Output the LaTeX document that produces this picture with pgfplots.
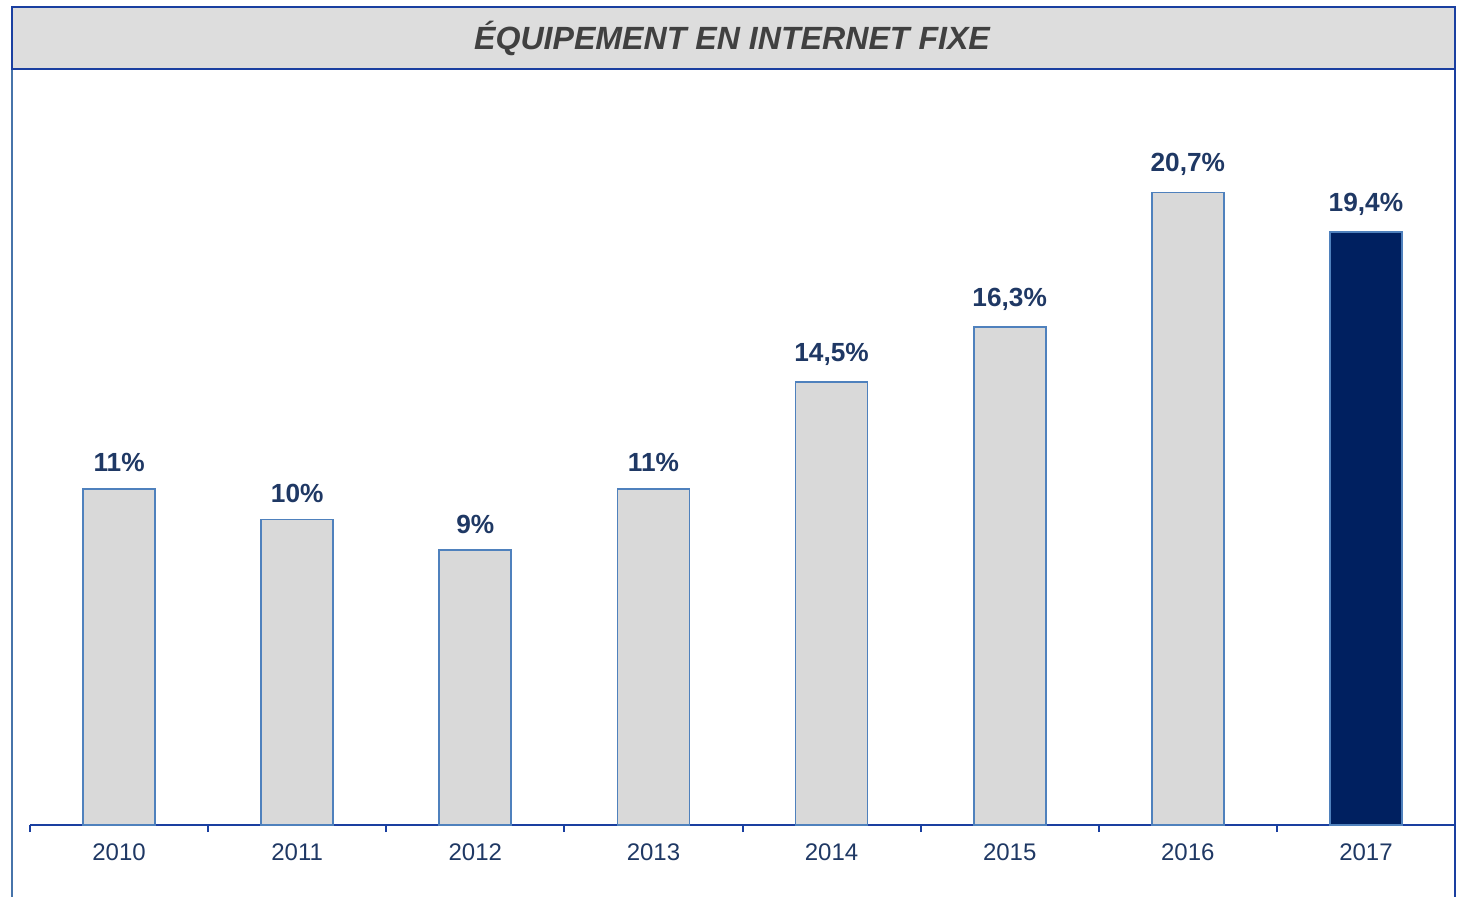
\documentclass[border=0pt]{standalone}
\usepackage{pgfplots}
\pgfplotsset{compat=1.18}
\usepackage{fontspec}
\setmainfont{Liberation Sans}
\definecolor{framebl}{HTML}{1A3FA0}
\definecolor{barbl}{HTML}{4F81BD}
\definecolor{navy}{HTML}{002060}
\definecolor{lbl}{HTML}{1F3864}
\definecolor{titlegray}{HTML}{DDDDDD}
\definecolor{bargray}{HTML}{D9D9D9}
\definecolor{titletext}{HTML}{404040}
\begin{document}
\begin{tikzpicture}
\path[use as bounding box] (0,0) rectangle ({1459*0.4pt},{896*0.4pt});
% outer frame sides
\draw[barbl!90!black, line width=0.7pt] ({12*0.4pt},{-5pt}) -- ({12*0.4pt},{(896-69)*0.4pt});
\draw[framebl, line width=0.7pt] ({1455*0.4pt},{-5pt}) -- ({1455*0.4pt},{(896-69)*0.4pt});
% title bar
\draw[framebl, line width=0.9pt, fill=titlegray] ({12*0.4pt},{(896-69)*0.4pt}) rectangle ({1455*0.4pt},{(896-7)*0.4pt});
\node[font=\bfseries\itshape\fontsize{12.85}{14}\selectfont, text=titletext] at ({732*0.4pt},{(896-38)*0.4pt}) {ÉQUIPEMENT EN INTERNET FIXE};
\begin{axis}[
  at={({30*0.4pt},{(896-825)*0.4pt})}, anchor=south west,
  scale only axis, width=570pt, height=302pt,
  xmin=-0.5, xmax=7.5, ymin=0, ymax=24.71,
  axis x line*=bottom, axis y line=none,
  x axis line style={framebl, line width=0.8pt, -},
  xtick={0,...,7},
  xticklabels={2010,2011,2012,2013,2014,2015,2016,2017},
  major tick length=0pt,
  minor xtick={-0.5,0.5,...,7.5},
  minor tick length=2.8pt,
  tick align=outside,
  minor tick style={framebl, line width=0.8pt},
  xticklabel style={font=\fontsize{9.6}{11}\selectfont, text=lbl, yshift=-4pt},
  ybar, bar width=28.8pt, bar shift=0pt,
  clip=false,
  nodes near coords,
  point meta=explicit symbolic,
  every node near coord/.append style={font=\bfseries\fontsize{10.5}{12}\selectfont, text=lbl, anchor=south, yshift=3pt},
]
\addplot[fill=bargray, draw=barbl, line width=0.7pt] table[meta=lab] {
x y lab
0 11 11\%
1 10 10\%
2 9 9\%
3 11 11\%
4 14.5 14,5\%
5 16.3 16,3\%
6 20.7 20,7\%
};
\addplot[fill=navy, draw=barbl, line width=0.7pt] table[meta=lab] {
x y lab
7 19.4 19,4\%
};
\end{axis}
\end{tikzpicture}
\end{document}
